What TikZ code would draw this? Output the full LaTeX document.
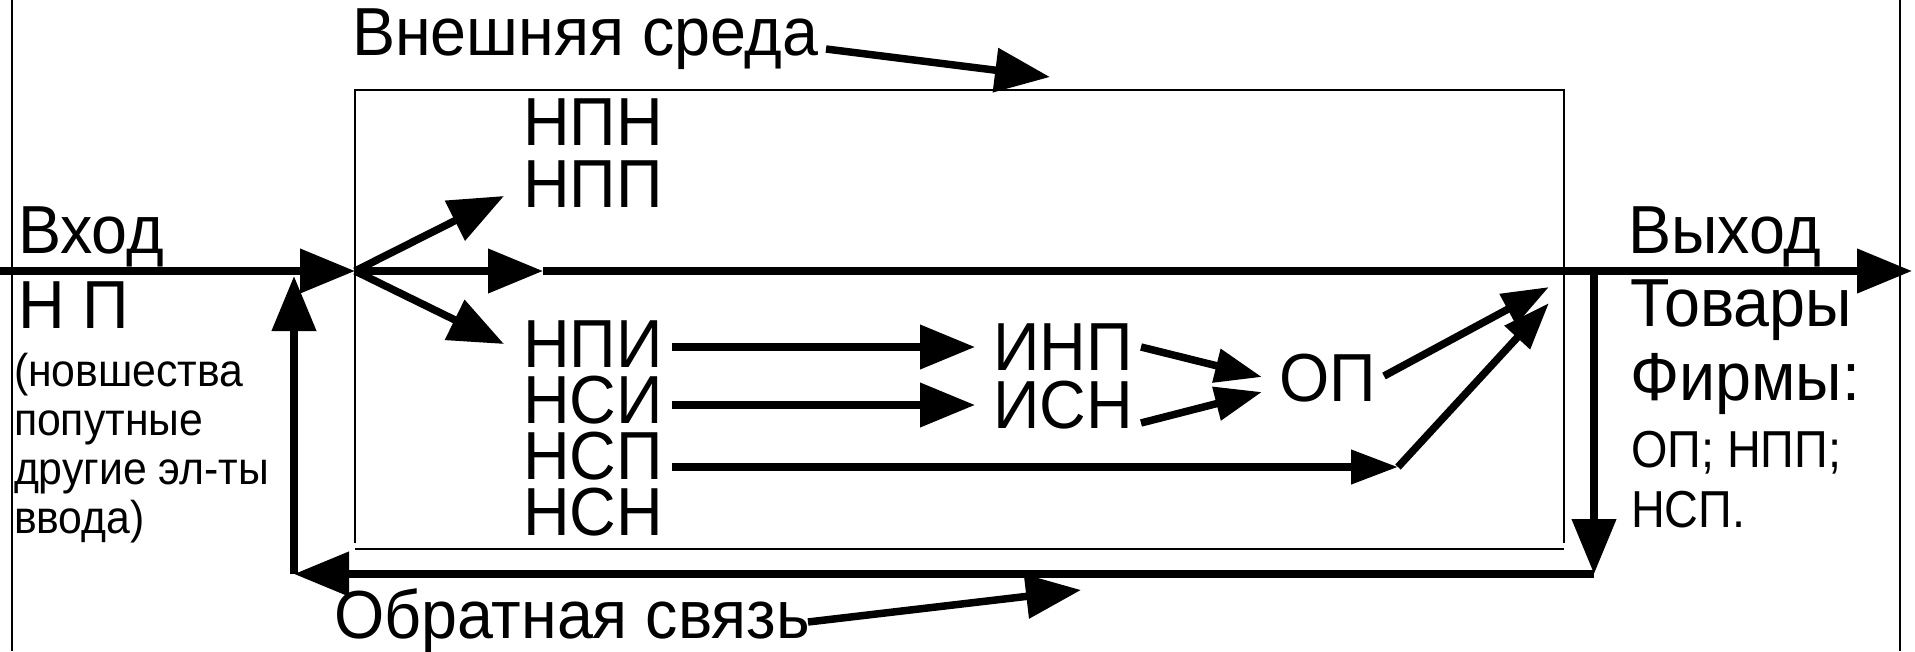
\documentclass[tikz,border=0pt]{standalone}
\usepackage{fontspec}
\setmainfont{Liberation Sans}[FakeStretch=0.95]
\newfontfamily\midfont{Liberation Sans}[FakeStretch=0.9]
\newfontfamily\smlfont{Liberation Sans}[FakeStretch=0.93]
\usetikzlibrary{arrows.meta}
\begin{document}
\begin{tikzpicture}[x=1pt,y=-1pt,
  lbl/.style={anchor=base west,inner sep=0pt,outer sep=0pt,font=\fontsize{68}{68}\selectfont},
  stk/.style={lbl,text height=49pt,text depth=0pt},
  mid/.style={anchor=base west,inner sep=0pt,outer sep=0pt,font=\midfont\fontsize{52}{52}\selectfont},
  sml/.style={anchor=base west,inner sep=0pt,outer sep=0pt,font=\smlfont\fontsize{46}{46}\selectfont},
  thin/.style={line width=2pt},
  bigarr/.style={line width=7.5pt,-{Triangle[length=55pt,width=43pt]}},
  smlarr/.style={line width=7.5pt,-{Triangle[length=47pt,width=33pt]}}
]
\useasboundingbox (0,0) rectangle (1915,651);
% frame
\draw[thin] (12,0) -- (12,651);
\draw[thin] (1900,0) -- (1900,651);
% box
\draw[thin] (355,543) -- (355,90) -- (1564,90) -- (1564,543);
\draw[thin] (355,549) -- (1564,549);
% texts
\node[lbl] (vs) at (352,55) {Внешняя среда};
\node[lbl] (os) at (334,638) {Обратная связь};
\node[lbl] (vhod) at (18,253) {Вход};
\node[lbl] (np) at (18,328) {Н П};
\node[sml] (p1) at (14,386) {(новшества};
\node[sml] (p2) at (14,435) {попутные};
\node[sml] (p3) at (14,484) {другие эл-ты};
\node[sml] (p4) at (14,533) {ввода)};
\node[stk] (npn) at (523,145) {НПН};
\node[stk] (npp) at (523,207) {НПП};
\node[stk] (npi) at (523,367) {НПИ};
\node[stk] (nsi) at (523,423) {НСИ};
\node[stk] (nsp) at (523,479) {НСП};
\node[stk] (nsn) at (523,535) {НСН};
\node[stk] (inp) at (993,370) {ИНП};
\node[stk] (isn) at (993,428) {ИСН};
\node[lbl] (op) at (1279,401) {ОП};
\node[lbl] (vyhod) at (1628,253) {Выход};
\node[lbl] (tov) at (1630,326) {Товары};
\node[lbl] (firm) at (1630,400) {Фирмы:};
\node[mid] (f1) at (1631,467) {ОП; НПП;};
\node[mid] (f2) at (1631,527) {НСП.};
% coordinates
\coordinate (L) at (0,271);
\coordinate (B) at (355,271);
\coordinate (M) at (543,271);
\coordinate (R) at (1912,271);
\coordinate (FR1) at (1594,271);
\coordinate (FR2) at (1594,574);
\coordinate (FL) at (294,574);
\coordinate (FT) at (294,276);
\coordinate (bu) at (504,196);
\coordinate (bd) at (504,344);
\coordinate (vsA) at (826,49);
\coordinate (vsB) at (1050,77);
\coordinate (osA) at (808,622);
\coordinate (osB) at (1081,590);
\coordinate (a1) at (672,347);
\coordinate (a1e) at (975,347);
\coordinate (a2) at (672,405);
\coordinate (a2e) at (975,405);
\coordinate (a3) at (672,467);
\coordinate (a3e) at (1398,467);
\coordinate (b1) at (1141,347);
\coordinate (b1e) at (1262,377);
\coordinate (b2) at (1141,423);
\coordinate (b2e) at (1262,392);
\coordinate (c1) at (1384,376);
\coordinate (c1e) at (1549,287);
\coordinate (c2e) at (1549,303);
% main line
\draw[bigarr] (L) -- (B);
\draw[bigarr] (B) -- (M);
\draw[bigarr] (M) -- (R);
\draw[bigarr] (B) -- (bu);
\draw[bigarr] (B) -- (bd);
% feedback
\draw[bigarr] (FR1) -- (FR2);
\draw[bigarr] (FR2) -- (FL);
\draw[bigarr] (FL) -- (FT);
% label arrows
\draw[bigarr] (vsA) -- (vsB);
\draw[bigarr] (osA) -- (osB);
% inner arrows
\draw[bigarr] (a1) -- (a1e);
\draw[bigarr] (a2) -- (a2e);
\draw[smlarr] (a3) -- (a3e);
\draw[smlarr] (b1) -- (b1e);
\draw[smlarr] (b2) -- (b2e);
\draw[smlarr] (c1) -- (c1e);
\draw[smlarr] (a3e) -- (c2e);
\end{tikzpicture}
\end{document}
